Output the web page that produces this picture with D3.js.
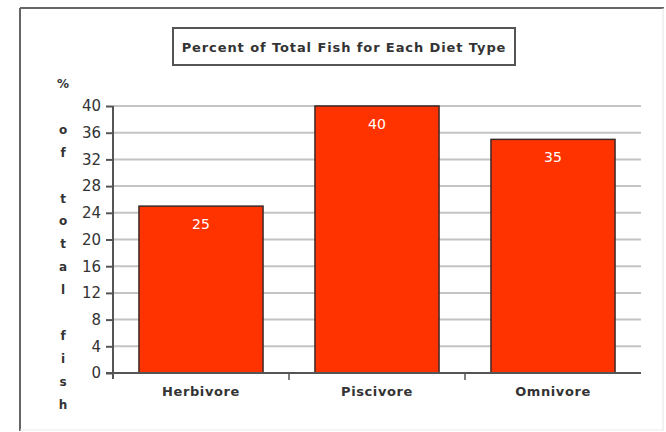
<!DOCTYPE html>
<html>
<head>
<meta charset="utf-8">
<script src="https://d3js.org/d3.v7.min.js"></script>
<style>
  body { margin: 0; background: #fff; }
  svg { display: block; }
  text { font-family: "DejaVu Sans", sans-serif; }
</style>
</head>
<body>
<div id="chart"></div>
<script>
// chart data
const categories = ["Herbivore", "Piscivore", "Omnivore"];
const percents = [25, 40, 35];
const yTicks = [0, 4, 8, 12, 16, 20, 24, 28, 32, 36, 40];
const chartTitle = "Percent of Total Fish for Each Diet Type";
const yTitle = "% of total fish";

const width = 666;
const height = 432;

const svg = d3.select("#chart")
  .append("svg")
  .attr("width", width)
  .attr("height", height);

// outer frame (dark top/left, light right/bottom)
svg.append("line").attr("x1", 20).attr("y1", 8).attr("x2", 664).attr("y2", 8)
  .attr("stroke", "#666").attr("stroke-width", 2);
svg.append("line").attr("x1", 20).attr("y1", 8).attr("x2", 20).attr("y2", 431)
  .attr("stroke", "#666").attr("stroke-width", 2);
svg.append("line").attr("x1", 663).attr("y1", 8).attr("x2", 663).attr("y2", 431)
  .attr("stroke", "#e4e4e4").attr("stroke-width", 1);
svg.append("line").attr("x1", 20).attr("y1", 430).attr("x2", 663).attr("y2", 430)
  .attr("stroke", "#ececec").attr("stroke-width", 1);

// title box
svg.append("rect")
  .attr("x", 173).attr("y", 28)
  .attr("width", 342).attr("height", 37)
  .attr("fill", "#fff")
  .attr("stroke", "#555")
  .attr("stroke-width", 2);
svg.append("text")
  .attr("x", 344).attr("y", 51.5)
  .attr("text-anchor", "middle")
  .attr("font-size", "13px")
  .attr("font-weight", "bold")
  .attr("letter-spacing", "0.9px")
  .attr("fill", "#333")
  .text(chartTitle);

// scales
const x = d3.scaleBand()
  .domain(categories)
  .range([113, 641])
  .paddingInner(0.295)
  .paddingOuter(0.1475);

const y = d3.scaleLinear()
  .domain([0, 40])
  .range([373, 106]);

// gridlines
svg.append("g")
  .selectAll("line")
  .data(yTicks.filter(d => d > 0))
  .join("line")
  .attr("x1", 113)
  .attr("x2", 641)
  .attr("y1", d => y(d))
  .attr("y2", d => y(d))
  .attr("stroke", "#c4c4c4")
  .attr("stroke-width", 2);

// bars
svg.append("g")
  .selectAll("rect")
  .data(percents)
  .join("rect")
  .attr("x", (d, i) => x(categories[i]))
  .attr("y", d => y(d))
  .attr("width", x.bandwidth())
  .attr("height", d => y(0) - y(d))
  .attr("fill", "#ff3300")
  .attr("stroke", "#3a2a28")
  .attr("stroke-width", 1.5);

// value labels
svg.append("g")
  .selectAll("text")
  .data(percents)
  .join("text")
  .attr("x", (d, i) => x(categories[i]) + x.bandwidth() / 2)
  .attr("y", d => y(d) + 23)
  .attr("text-anchor", "middle")
  .attr("font-size", "14px")
  .attr("fill", "#fff")
  .text(d => d);

// y axis
const yAxis = d3.axisLeft(y).tickValues(yTicks).tickSize(7).tickPadding(5);
const gy = svg.append("g")
  .attr("transform", "translate(113,0)")
  .call(yAxis);
gy.select(".domain").attr("stroke", "#555").attr("stroke-width", 2)
  .attr("d", `M0,${y(40)}V${y(0) + 6}`);
gy.selectAll(".tick line").attr("stroke", "#555").attr("stroke-width", 2);
gy.selectAll(".tick text")
  .attr("font-size", "15px")
  .attr("fill", "#333")
  .attr("font-family", "DejaVu Sans, sans-serif");

// x axis
const xAxis = d3.axisBottom(x).tickSize(0).tickPadding(14);
const gx = svg.append("g")
  .attr("transform", `translate(0,${y(0)})`)
  .call(xAxis);
gx.select(".domain").attr("stroke", "#555").attr("stroke-width", 2)
  .attr("d", "M106,0H641");
gx.selectAll(".tick text")
  .attr("font-size", "13px")
  .attr("font-weight", "bold")
  .attr("letter-spacing", "0.6px")
  .attr("fill", "#333")
  .attr("font-family", "DejaVu Sans, sans-serif");

// category separator ticks
const step = x.step();
svg.append("g")
  .selectAll("line")
  .data(categories.slice(1))
  .join("line")
  .attr("x1", d => x(d) - (step - x.bandwidth()) / 2)
  .attr("x2", d => x(d) - (step - x.bandwidth()) / 2)
  .attr("y1", y(0))
  .attr("y2", y(0) + 7)
  .attr("stroke", "#555")
  .attr("stroke-width", 1.5);

// stacked y title
svg.append("g")
  .selectAll("text")
  .data(yTitle.split(""))
  .join("text")
  .attr("x", 63)
  .attr("y", (d, i) => 88 + i * 22.9)
  .attr("text-anchor", "middle")
  .attr("font-size", "12px")
  .attr("font-weight", "bold")
  .attr("fill", "#333")
  .text(d => d);
</script>
</body>
</html>
